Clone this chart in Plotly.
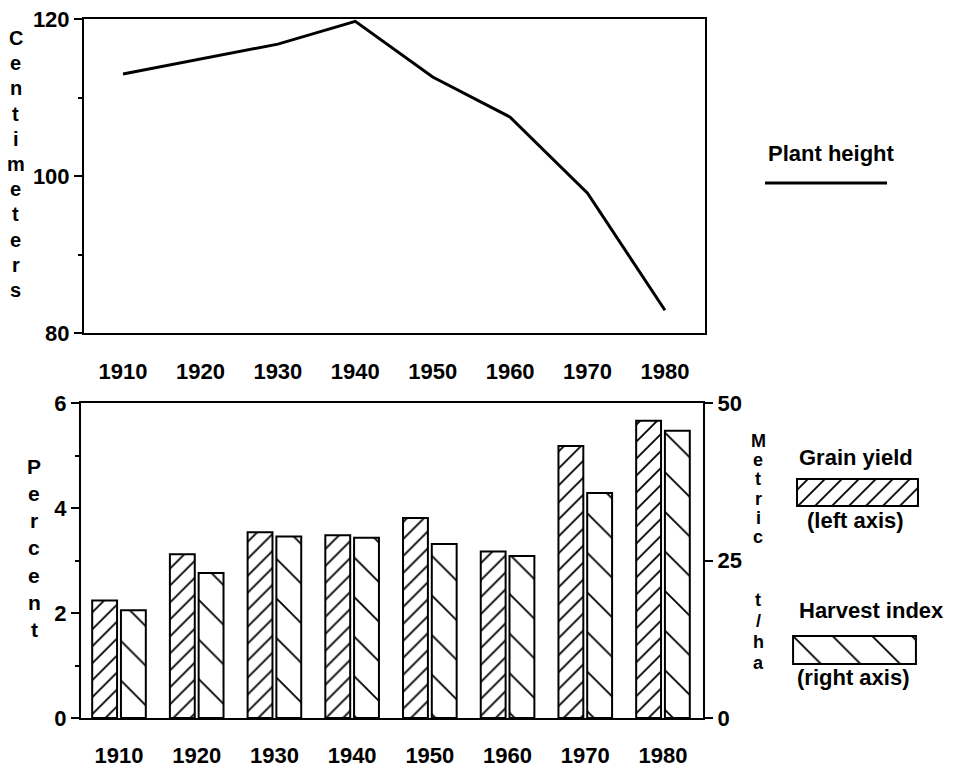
import plotly.graph_objects as go

# 데이터
years = [1910, 1920, 1930, 1940, 1950, 1960, 1970, 1980]
plant_height = [113.0, 114.9, 116.8, 119.7, 112.6, 107.5, 97.8, 82.9]   # cm
grain_yield = [2.24, 3.12, 3.54, 3.48, 3.81, 3.17, 5.18, 5.66]          # left axis
harvest_index = [17.1, 23.0, 28.8, 28.6, 27.6, 25.7, 35.7, 45.6]        # right axis

# 페이지 body 기본 여백(8px)을 고려한 크기
PAGE_OFF = 8
W, H = 957 - PAGE_OFF, 774 - PAGE_OFF
FONT = "Liberation Sans"


def fx(x):
    return (x - PAGE_OFF) / W


def fy(y):
    return 1 - (y - PAGE_OFF) / H


def px_x(a, b):
    return [fx(a), fx(b)]


def px_y(top, bottom):
    return [fy(bottom), fy(top)]


def bold(size):
    return dict(family=FONT, size=size, color="black", weight="bold")


grain_marker = dict(
    color="white",
    line=dict(color="black", width=2),
    pattern=dict(shape="/", size=12, solidity=0.15, fgcolor="black",
                 bgcolor="white", fgopacity=1),
)
harvest_marker = dict(
    color="white",
    line=dict(color="black", width=2),
    pattern=dict(shape="\\", size=28, solidity=0.065, fgcolor="black",
                 bgcolor="white", fgopacity=1),
)

fig = go.Figure()

# 상단: 초장
fig.add_trace(go.Scatter(
    x=years, y=plant_height, mode="lines",
    line=dict(color="black", width=3),
    xaxis="x", yaxis="y", showlegend=False,
))

# 하단: 막대
fig.add_trace(go.Bar(
    x=years, y=grain_yield, width=3.2, offset=-3.45,
    marker=grain_marker, xaxis="x2", yaxis="y2", showlegend=False,
))
fig.add_trace(go.Bar(
    x=years, y=harvest_index, width=3.2, offset=0.25,
    marker=harvest_marker, xaxis="x2", yaxis="y3", showlegend=False,
))

# 범례 견본
fig.add_trace(go.Bar(
    x=[1], y=[0], width=1, orientation="h", marker=grain_marker,
    xaxis="x3", yaxis="y4", showlegend=False,
))
fig.add_trace(go.Bar(
    x=[1], y=[0], width=1, orientation="h", marker=harvest_marker,
    xaxis="x4", yaxis="y5", showlegend=False,
))

axis_common = dict(
    showgrid=False, zeroline=False, showline=True, automargin=False,
    ticklabeloverflow="allow", linecolor="black", linewidth=2,
)

hidden = dict(visible=False, showgrid=False, zeroline=False, fixedrange=True, automargin=False)

fig.update_layout(
    width=W, height=H,
    margin=dict(l=0, r=0, t=0, b=0, pad=0, autoexpand=False),
    paper_bgcolor="white", plot_bgcolor="white",
    barmode="overlay",
    xaxis=dict(
        axis_common, domain=px_x(84, 705), anchor="y",
        range=[1904.96, 1985.17], mirror=True,
        tickvals=years, ticks="", tickfont=bold(22), ticklabelstandoff=18,
    ),
    yaxis=dict(
        axis_common, domain=px_y(19, 333), anchor="x",
        range=[80, 120], mirror=True,
        tickvals=[80, 100, 120], ticks="outside", ticklen=8, tickwidth=2,
        tickcolor="black", tickfont=bold(22),
        minor=dict(dtick=10, ticks="outside", ticklen=4, tickwidth=2, tickcolor="black"),
    ),
    xaxis2=dict(
        axis_common, domain=px_x(81, 703), anchor="y2",
        range=[1905.11, 1985.15], mirror=True,
        tickvals=years, ticks="", tickfont=bold(22), ticklabelstandoff=17,
    ),
    yaxis2=dict(
        axis_common, domain=px_y(403, 718), anchor="x2",
        range=[0, 6],
        tickvals=[0, 2, 4, 6], ticks="outside", ticklen=8, tickwidth=2,
        tickcolor="black", tickfont=bold(22),
        minor=dict(dtick=1, ticks="outside", ticklen=4, tickwidth=2, tickcolor="black"),
    ),
    yaxis3=dict(
        axis_common, overlaying="y2", side="right", anchor="x2",
        range=[0, 50],
        tickvals=[0, 25, 50], ticks="outside", ticklen=8, tickwidth=2,
        tickcolor="black", tickfont=bold(22),
    ),
    xaxis3=dict(hidden, domain=px_x(794, 921), range=[-0.025, 1.025], anchor="y4"),
    yaxis4=dict(hidden, domain=px_y(476, 509), range=[-0.61, 0.61], anchor="x3"),
    xaxis4=dict(hidden, domain=px_x(790, 919), range=[-0.025, 1.025], anchor="y5"),
    yaxis5=dict(hidden, domain=px_y(633, 667), range=[-0.61, 0.61], anchor="x4"),
)


def add_text(text, x, y, size):
    fig.add_annotation(
        text=text, x=fx(x), y=fy(y),
        xref="paper", yref="paper", xanchor="center", yanchor="middle",
        showarrow=False, font=bold(size),
    )


# 세로로 쌓인 축 제목 (글자별 배치)
def vertical_word(letters, x, y0, step, size):
    y = y0
    for ch in letters:
        if ch != " ":
            add_text(ch, x, y, size)
        y += step


vertical_word("Centimeters", 16, 38, 25.2, 20)
vertical_word("Percent", 34, 466, 27.3, 21)
vertical_word("Metric", 758, 441, 19.2, 18)
vertical_word("t/ha", 758, 600, 21.0, 18)

# 범례 문구
add_text("Plant height", 831, 153, 22)
add_text("Grain yield", 856, 457, 22)
add_text("(left axis)", 855, 520, 22)
add_text("Harvest index", 871, 610, 22)
add_text("(right axis)", 853, 677, 22)

# 초장 범례 선
fig.add_shape(
    type="line", xref="paper", yref="paper",
    x0=fx(765), x1=fx(887), y0=fy(183), y1=fy(183),
    line=dict(color="black", width=3),
)

fig.write_html("out.html")
